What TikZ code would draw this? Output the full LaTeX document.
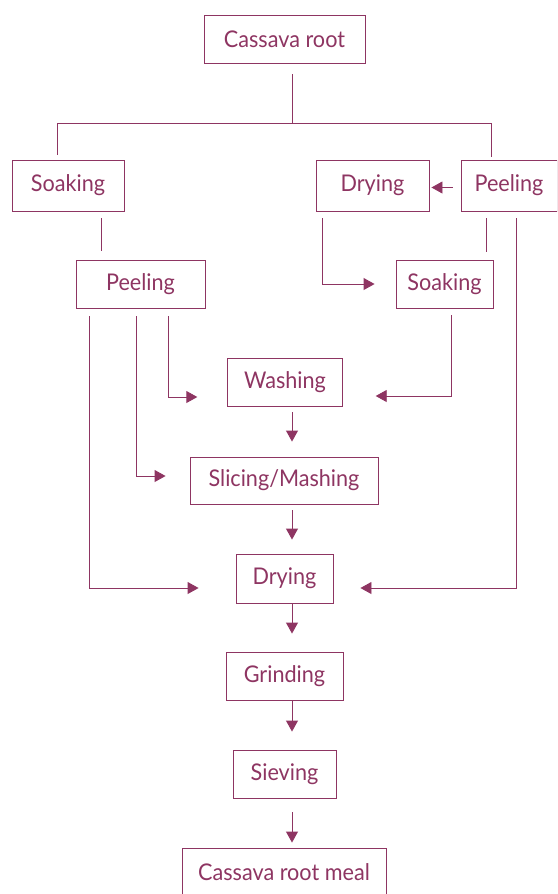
\documentclass[tikz,border=0pt]{standalone}
\usepackage{fontspec}
\setmainfont{Lato}[FakeStretch=0.94]
\usetikzlibrary{arrows.meta}
\definecolor{pc}{HTML}{8E3562}
\begin{document}
\begin{tikzpicture}[x=1pt,y=1pt,
  box/.style={draw=pc, line width=0.9pt, text=pc, font=\fontsize{23}{26}\selectfont, inner sep=0pt, minimum height=48pt, anchor=center},
  ln/.style={draw=pc, line width=0.9pt},
  arr/.style={ln, -{Triangle[length=11pt,width=12pt]}}]
\useasboundingbox (0,0) rectangle (557,-894);
\clip (0,0) rectangle (557,-894);
% nodes
\node[box, minimum width=161pt] (root) at (284.5,-39) {Cassava root};
\node[box, minimum width=112pt, minimum height=51pt] (soakL) at (68,-185.5) {Soaking};
\node[box, minimum width=113pt, minimum height=51pt] (dryT) at (372.5,-185.5) {Drying};
\node[box, minimum width=96pt, minimum height=51pt] (peelR) at (509,-185.5) {Peeling};
\node[box, minimum width=129pt] (peelM) at (140.5,-284) {Peeling};
\node[box, minimum width=97pt] (soakR) at (444.5,-284) {Soaking};
\node[box, minimum width=114.5pt] (wash) at (285,-382) {Washing};
\node[box, minimum width=188pt, minimum height=47pt] (slice) at (284,-480.5) {Slicing/Mashing};
\node[box, minimum width=97pt, minimum height=49pt] (dryB) at (284.5,-578.5) {Drying};
\node[box, minimum width=117pt] (grind) at (284.5,-676) {Grinding};
\node[box, minimum width=103pt] (sieve) at (284.5,-774) {Sieving};
\node[box, minimum width=204pt] (meal) at (284,-872) {Cassava root meal};
% top split
\coordinate (hM) at (292,-123);
\coordinate (hL) at (57,-123);
\coordinate (hR) at (491,-123);
\draw[ln] ([xshift=7.5pt,yshift=-11pt]root.south) -- (hM);
\draw[ln] ([xshift=-11pt,yshift=5pt]soakL.north) |- (hR) -- ([xshift=-18pt,yshift=3pt]peelR.north);
% second row
\draw[arr] ([xshift=-8pt,yshift=-2pt]peelR.west) -- ([xshift=2pt,yshift=-2pt]dryT.east);
\draw[ln] ([xshift=33pt,yshift=-7pt]soakL.south) -- ([xshift=-39.5pt,yshift=9pt]peelM.north);
\draw[arr] ([xshift=-50pt,yshift=-7pt]dryT.south) |- ([xshift=-21pt]soakR.west);
\draw[ln] ([xshift=-23pt,yshift=-7pt]peelR.south) -- ([xshift=41.5pt,yshift=8pt]soakR.north);
\draw[arr] ([xshift=7pt,yshift=-7pt]peelR.south) |- ([xshift=27pt,yshift=-9.5pt]dryB.east);
% from middle peeling
\draw[arr] ([xshift=-51.5pt,yshift=-8pt]peelM.south) |- ([xshift=-37pt,yshift=-9.5pt]dryB.west);
\draw[arr] ([xshift=-4.5pt,yshift=-8pt]peelM.south) |- ([xshift=-24pt,yshift=4.5pt]slice.west);
\draw[arr] ([xshift=27.5pt,yshift=-8pt]peelM.south) |- ([xshift=-30pt,yshift=-15pt]wash.west);
\draw[arr] ([xshift=6.5pt,yshift=-7pt]soakR.south) |- ([xshift=33pt,yshift=-14pt]wash.east);
% main chain
\draw[arr] ([xshift=7pt,yshift=-6pt]wash.south) -- ([xshift=8pt,yshift=15pt]slice.north);
\draw[arr] ([xshift=8pt,yshift=-6pt]slice.south) -- ([xshift=7.5pt,yshift=14pt]dryB.north);
\draw[arr] ([xshift=7.5pt]dryB.south) -- ([xshift=7.5pt,yshift=18pt]grind.north);
\draw[arr] ([xshift=7.5pt]grind.south) -- ([xshift=7.5pt,yshift=18pt]sieve.north);
\draw[arr] ([xshift=7.5pt,yshift=-14pt]sieve.south) -- ([xshift=8pt,yshift=5pt]meal.north);
\end{tikzpicture}
\end{document}
